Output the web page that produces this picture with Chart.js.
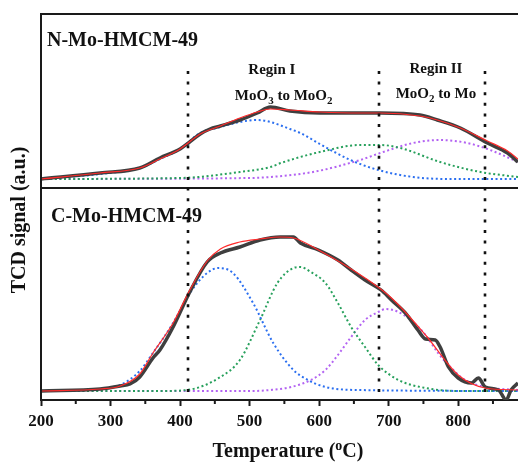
<!DOCTYPE html>
<html>
<head>
<meta charset="utf-8">
<script src="https://cdn.jsdelivr.net/npm/chart.js@4.4.1/dist/chart.umd.min.js"></script>
<style>
  html, body { margin: 0; padding: 0; background: #fff; }
</style>
</head>
<body>
<canvas id="tprChart" width="518" height="463"></canvas>
<script>
// N-Mo-HMCM-49 (top panel), temperature in C and signal in a.u.
var nExpT = [200, 285, 342, 371, 400, 412, 429, 443, 458, 486, 511, 530, 558, 601, 659, 688, 745, 770, 803, 842, 871, 886];
var nExpV = [0, 6, 11, 21, 30, 36, 45, 50, 53, 59, 66, 72, 68, 66, 66, 66, 64, 59, 51, 36, 26, 17];
var nFitT = [200, 285, 342, 371, 400, 429, 458, 486, 511, 530, 558, 601, 659, 688, 745, 770, 803, 842, 871, 886];
var nFitV = [0, 6, 11, 20, 30, 45, 53, 61, 67, 70, 69, 67, 66, 66, 63, 59, 51, 38, 28, 20];
var nP1T = [200, 285, 342, 371, 400, 429, 458, 486, 511, 530, 558, 573, 601, 645, 685, 735, 784, 886];
var nP1V = [0, 5, 11, 20, 30, 46, 52, 57, 59, 57, 50, 46, 35, 19, 9, 2, 0, 0];
var nP2T = [200, 400, 486, 530, 545, 601, 659, 688, 717, 774, 832, 886];
var nP2V = [0, 1, 7, 12, 16, 27, 34, 34, 31, 17, 7, 2];
var nP3T = [200, 500, 530, 591, 659, 688, 735, 774, 813, 846, 886];
var nP3V = [0, 1, 2, 7, 19, 26, 36, 39, 36, 29, 17];

// C-Mo-HMCM-49 (bottom panel)
var cExpT = [200, 285, 314, 328, 342, 361, 371, 390, 414, 439, 458, 486, 515, 544, 563, 573, 599, 627, 646, 666, 689, 704, 724, 742, 753, 767, 774, 786, 800, 819, 829, 839, 858, 869, 876, 886];
var cExpV = [0, 2, 5, 7, 14, 33, 41, 64, 99, 129, 138, 144, 151, 154, 154, 148, 141, 131, 121, 111, 101, 91, 78, 61, 52, 51, 44, 24, 13, 8, 13, 4, 1, -9, 1, 8];
var cFitT = [200, 285, 314, 342, 361, 390, 414, 439, 458, 486, 515, 544, 563, 599, 666, 704, 753, 800, 839, 886];
var cFitV = [0, 2, 5, 17, 38, 68, 101, 130, 142, 149, 152, 154, 153, 141, 113, 93, 56, 16, 3, 1];
var cP1T = [200, 285, 314, 342, 361, 390, 414, 439, 455, 476, 505, 534, 563, 584, 609, 656, 886];
var cP1V = [0, 2, 6, 20, 38, 68, 98, 118, 123, 118, 88, 48, 21, 11, 4, 1, 0];
var cP2T = [200, 371, 410, 458, 486, 515, 540, 563, 573, 588, 609, 627, 646, 666, 685, 714, 753, 800, 886];
var cP2V = [0, 0, 1, 14, 31, 71, 108, 123, 124, 119, 108, 88, 64, 44, 26, 11, 3, 0, 0];
var cP3T = [200, 501, 530, 560, 588, 609, 627, 646, 666, 685, 696, 714, 732, 753, 771, 790, 810, 839, 886];
var cP3V = [0, 0, 1, 4, 11, 21, 36, 54, 71, 79, 82, 79, 71, 56, 38, 23, 11, 4, 1];

// region boundaries (C)
var regionT = [411.5, 686, 839];
var xTicks = [200, 300, 400, 500, 600, 700, 800];

var SERIF = '"Liberation Serif", "Times New Roman", serif';

var toPoints = function(ts, vs) {
    return ts.map(function(t, i) { return {x: t, y: vs[i]}; });
};

var solid = function(ts, vs, axis, color, width, order) {
    return { data: toPoints(ts, vs), yAxisID: axis, borderColor: color,
             borderWidth: width, order: order, fill: false };
};
var dotted = function(ts, vs, axis, color) {
    return { data: toPoints(ts, vs), yAxisID: axis, borderColor: color,
             borderWidth: 2, borderDash: [2, 2.6], order: 3, fill: false };
};

var drawRich = function(c, parts, cx, cy, size) {
    var total = 0;
    parts.forEach(function(p) {
        c.font = 'bold ' + (p.small ? Math.round(size * 0.72) : size) + 'px ' + SERIF;
        p.w = c.measureText(p.t).width;
        total += p.w;
    });
    var x = cx - total / 2;
    c.textAlign = 'left';
    c.textBaseline = 'middle';
    parts.forEach(function(p) {
        c.font = 'bold ' + (p.small ? Math.round(size * 0.72) : size) + 'px ' + SERIF;
        c.fillText(p.t, x, cy + (p.dy || 0));
        x += p.w;
    });
};

var decor = {
    id: 'decor',
    afterDraw: function(chart) {
        var c = chart.ctx;
        var a = chart.chartArea;
        var xs = chart.scales.x, yt = chart.scales.yTop, yb = chart.scales.yBot;
        c.save();
        c.fillStyle = '#111';

        // frame and panel separator
        c.strokeStyle = '#1a1a1a';
        c.lineWidth = 2;
        c.beginPath();
        c.moveTo(a.left, a.bottom); c.lineTo(a.left, a.top); c.lineTo(a.right, a.top);
        c.moveTo(a.left, yt.bottom); c.lineTo(a.right, yt.bottom);
        c.stroke();

        // minor ticks
        c.beginPath();
        for (var m = 250; m < 886; m += 100) {
            var mx = xs.getPixelForValue(m);
            c.moveTo(mx, a.bottom); c.lineTo(mx, a.bottom + 4);
        }
        c.stroke();

        // region boundaries
        c.strokeStyle = '#111';
        c.lineWidth = 2.6;
        c.setLineDash([3, 7.6]);
        regionT.forEach(function(t) {
            var px = Math.round(xs.getPixelForValue(t));
            c.beginPath();
            c.moveTo(px, yt.getPixelForValue(108));
            c.lineTo(px, yb.getPixelForValue(-1));
            c.stroke();
        });
        c.setLineDash([]);

        // panel labels
        c.font = 'bold 20px ' + SERIF;
        c.textAlign = 'left';
        c.textBaseline = 'middle';
        c.fillText('N-Mo-HMCM-49', a.left + 6, yt.getPixelForValue(138));
        c.fillText('C-Mo-HMCM-49', a.left + 10, yb.getPixelForValue(174));

        // region annotations
        drawRich(c, [{t: 'Regin I'}], xs.getPixelForValue(532), yt.getPixelForValue(109), 15);
        drawRich(c, [{t: 'MoO'}, {t: '3', small: true, dy: 5}, {t: ' to MoO'}, {t: '2', small: true, dy: 5}],
                 xs.getPixelForValue(549), yt.getPixelForValue(83), 15);
        drawRich(c, [{t: 'Regin II'}], xs.getPixelForValue(768), yt.getPixelForValue(110), 15);
        drawRich(c, [{t: 'MoO'}, {t: '2', small: true, dy: 5}, {t: ' to Mo'}],
                 xs.getPixelForValue(768), yt.getPixelForValue(85), 15);

        // axis titles
        drawRich(c, [{t: 'Temperature ('}, {t: 'o', small: true, dy: -6}, {t: 'C)'}], 288, 452, 20);
        c.translate(20, 220);
        c.rotate(-Math.PI / 2);
        drawRich(c, [{t: 'TCD signal (a.u.)'}], 0, 0, 20);
        c.restore();
    }
};

new Chart(document.getElementById('tprChart'), {
    type: 'line',
    data: {
        datasets: [
            solid(nFitT, nFitV, 'yTop', '#ff2b2b', 1.2, 0),
            solid(nExpT, nExpV, 'yTop', '#3f3f3f', 3.5, 1),
            dotted(nP1T, nP1V, 'yTop', '#2b6ff0'),
            dotted(nP2T, nP2V, 'yTop', '#27a05c'),
            dotted(nP3T, nP3V, 'yTop', '#b363f2'),
            solid(cFitT, cFitV, 'yBot', '#ff2b2b', 1.2, 0),
            solid(cExpT, cExpV, 'yBot', '#3f3f3f', 3.5, 1),
            dotted(cP1T, cP1V, 'yBot', '#2b6ff0'),
            dotted(cP2T, cP2V, 'yBot', '#27a05c'),
            dotted(cP3T, cP3V, 'yBot', '#b363f2')
        ]
    },
    options: {
        responsive: false,
        animation: false,
        layout: { padding: { left: 41, right: 0, top: 14, bottom: 0 } },
        plugins: { legend: { display: false }, tooltip: { enabled: false } },
        elements: {
            point: { radius: 0 },
            line: { cubicInterpolationMode: 'monotone' }
        },
        scales: {
            x: {
                type: 'linear', min: 200, max: 886,
                afterBuildTicks: function(s) {
                    s.ticks = xTicks.map(function(v) { return {value: v}; });
                },
                afterFit: function(s) { s.height = 63; },
                ticks: { color: '#111', padding: 5, maxRotation: 0,
                         font: { family: SERIF, size: 17, weight: 'bold' } },
                grid: { drawOnChartArea: false, tickLength: 6, tickWidth: 2, tickColor: '#1a1a1a' },
                border: { color: '#1a1a1a', width: 2 }
            },
            yBot: {
                type: 'linear', position: 'left', stack: 'panels', stackWeight: 212,
                min: -9, max: 203,
                ticks: { display: false }, grid: { display: false }, border: { display: false },
                afterFit: function(s) { s.width = 0; }
            },
            yTop: {
                type: 'linear', position: 'left', stack: 'panels', stackWeight: 174,
                min: -9, max: 165,
                ticks: { display: false }, grid: { display: false }, border: { display: false },
                afterFit: function(s) { s.width = 0; }
            }
        }
    },
    plugins: [decor]
});
</script>
</body>
</html>
